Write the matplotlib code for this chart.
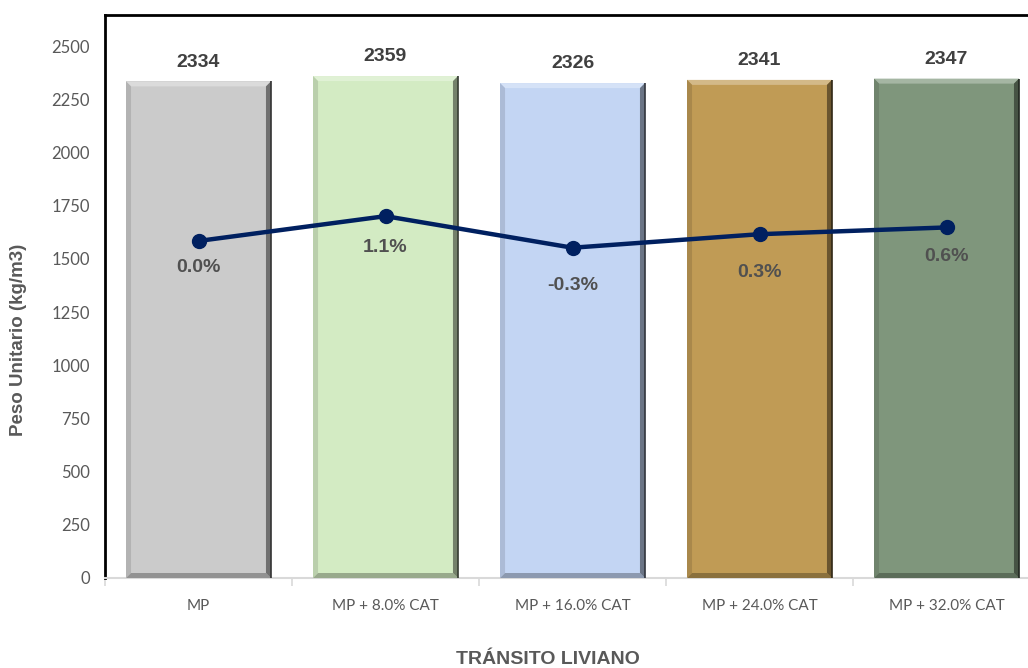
import matplotlib
matplotlib.use("Agg")
import matplotlib.pyplot as plt
from matplotlib.patches import Polygon
import matplotlib.colors as mcolors
import numpy as np

categories = ["MP", "MP + 8.0% CAT", "MP + 16.0% CAT", "MP + 24.0% CAT", "MP + 32.0% CAT"]
peso = [2334, 2359, 2326, 2341, 2347]
variacion = [0.0, 1.1, -0.3, 0.3, 0.6]
bar_colors = ["#CBCBCB", "#D3EBC3", "#C3D5F3", "#C09B55", "#7F967C"]
yticks = [0, 250, 500, 750, 1000, 1250, 1500, 1750, 2000, 2250, 2500]
pct_label_offsets_pt = [-13, -16.5, -21, -21.5, -14.5]

W, H = 1028, 668
fig = plt.figure(figsize=(W / 100, H / 100), dpi=100)
ax_l, ax_r, ax_b, ax_t = 105, 1040, 90, 653
ax = fig.add_axes([ax_l / W, ax_b / H, (ax_r - ax_l) / W, (ax_t - ax_b) / H])

ymax = 2646
ax.set_xlim(-0.5, len(categories) - 0.5)
ax.set_ylim(0, ymax)
x = np.arange(len(categories))
bw = 0.775

bev_px = 5
dx = bev_px * (len(categories)) / (ax_r - ax_l)
dy = bev_px * ymax / (ax_t - ax_b)

def shade(c, f):
    r, g, b = mcolors.to_rgb(c)
    if f >= 0:
        return (r + (1 - r) * f, g + (1 - g) * f, b + (1 - b) * f)
    f = -f
    return (r * (1 - f), g * (1 - f), b * (1 - f))

for xi, v, c in zip(x, peso, bar_colors):
    x0, x1 = xi - bw / 2, xi + bw / 2
    ax.bar(xi, v, width=bw, color=c, edgecolor="none", zorder=2)
    ax.add_patch(Polygon([(x0, v), (x1, v), (x1 - dx, v - dy), (x0 + dx, v - dy)],
                         closed=True, facecolor=shade(c, 0.3), edgecolor="none", zorder=3))
    ax.add_patch(Polygon([(x0, 0), (x0, v), (x0 + dx, v - dy), (x0 + dx, dy)],
                         closed=True, facecolor=shade(c, -0.12), edgecolor="none", zorder=3))
    ax.add_patch(Polygon([(x0, 0), (x1, 0), (x1 - dx, dy), (x0 + dx, dy)],
                         closed=True, facecolor=shade(c, -0.28), edgecolor="none", zorder=3))
    ax.add_patch(Polygon([(x1, 0), (x1, v), (x1 - dx, v - dy), (x1 - dx, dy)],
                         closed=True, facecolor=shade(c, -0.45), edgecolor="none", zorder=3))
    ax.plot([x1, x1], [0, v], color=shade(c, -0.75), lw=1.2, zorder=4, solid_capstyle="butt")
    ax.text(xi, v + 50, f"{v}", ha="center", va="bottom", fontsize=14, fontweight="bold",
            color="#404040", family="Liberation Sans", zorder=5)

ax2 = ax.twinx()
scale = 106.0
base = 1584.0
ax2.set_ylim((0 - base) / scale, (ymax - base) / scale)
ax2.plot(x, variacion, color="#002060", lw=3.2, marker="o", markersize=10, zorder=6)
for xi, p, off in zip(x, variacion, pct_label_offsets_pt):
    ax2.annotate(f"{p:.1f}%", (xi, p), xytext=(0, off), textcoords="offset points",
                 ha="center", va="top", fontsize=14, fontweight="bold",
                 color="#505050", family="Liberation Sans")
ax2.axis("off")
ax2.set_xlim(-0.5, len(categories) - 0.5)

ax.set_yticks(yticks)
ax.set_yticklabels([str(t) for t in yticks], fontsize=12, color="#595959", family="Lato")
ax.tick_params(axis="y", length=0, pad=11)
ax.set_xticks(x)
ax.set_xticklabels(categories, fontsize=11, color="#595959", family="Lato")
ax.tick_params(axis="x", length=0, pad=15)
ax.set_xticks(np.arange(len(categories) + 1) - 0.5, minor=True)
ax.tick_params(axis="x", which="minor", length=6, color="#D9D9D9", width=1.2)

ax.spines["right"].set_visible(False)
ax.spines["top"].set_color("black")
ax.spines["top"].set_linewidth(2)
ax.spines["left"].set_color("black")
ax.spines["left"].set_linewidth(2)
ax.spines["bottom"].set_color("#D9D9D9")
ax.spines["bottom"].set_linewidth(1.5)

fig.text(19 / W, 1 - 340 / H, "Peso Unitario (kg/m3)", rotation=90, ha="center", va="center",
         fontsize=13.5, fontweight="bold", color="#595959", family="Liberation Sans")
fig.text(548 / W, 1 - 660 / H, "TRÁNSITO LIVIANO", ha="center", va="center",
         fontsize=14, fontweight="bold", color="#595959", family="Liberation Sans")

fig.savefig("out.png", dpi=100)
